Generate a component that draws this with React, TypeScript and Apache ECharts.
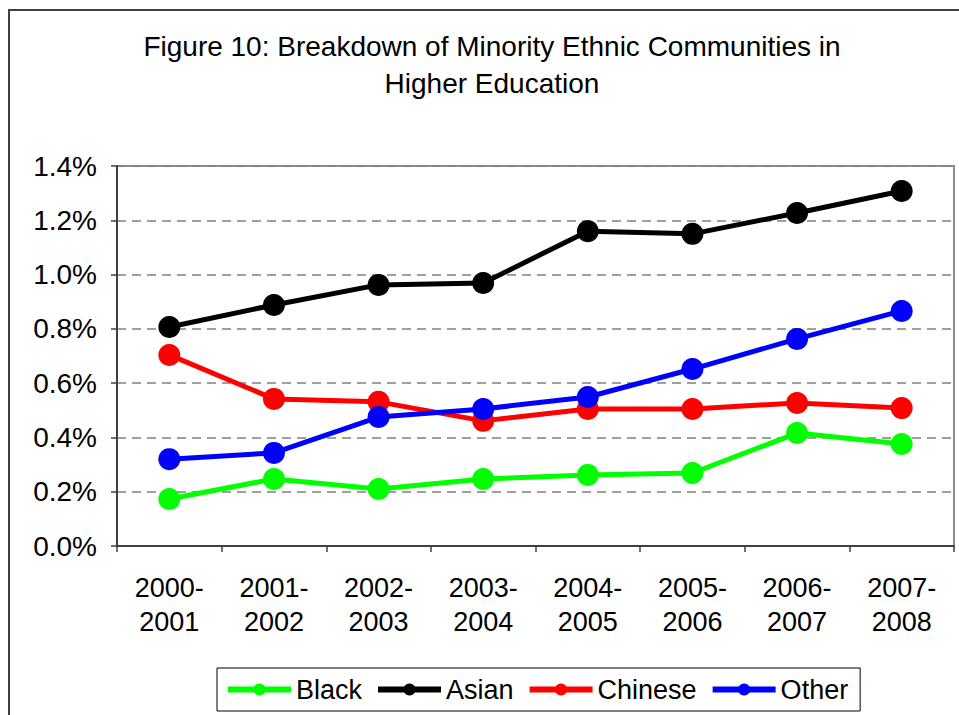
import React, { useEffect, useRef } from "react";
import * as echarts from "echarts";

const categories = ["2000-\n2001", "2001-\n2002", "2002-\n2003", "2003-\n2004", "2004-\n2005", "2005-\n2006", "2006-\n2007", "2007-\n2008"];
const black = [0.173, 0.247, 0.21, 0.247, 0.262, 0.269, 0.416, 0.376];
const asian = [0.807, 0.888, 0.962, 0.969, 1.16, 1.15, 1.227, 1.308];
const chinese = [0.704, 0.542, 0.531, 0.461, 0.505, 0.505, 0.527, 0.508];
const other = [0.32, 0.343, 0.475, 0.505, 0.549, 0.652, 0.763, 0.866];

const FONT = "Liberation Sans, Arial, sans-serif";

export default function App() {
  const ref = useRef<HTMLDivElement>(null);
  useEffect(() => {
    const chart = echarts.init(ref.current!, null, { renderer: "svg" });
    const mk = (name: string, color: string, data: number[]) => ({
      name,
      type: "line",
      data,
      symbol: "circle",
      symbolSize: 22,
      itemStyle: { color },
      lineStyle: { color, width: 5 },
    });
    chart.setOption({
      animation: false,
      backgroundColor: "#fff",
      title: {
        text: "Figure 10: Breakdown of Minority Ethnic Communities in\nHigher Education",
        left: 492,
        textAlign: "center",
        top: 28,
        padding: 0,
        textStyle: { fontFamily: FONT, fontSize: 28, fontWeight: "normal", color: "#000", lineHeight: 37 },
      },
      graphic: [
        {
          type: "rect",
          shape: { x: 9, y: 10, width: 980, height: 740 },
          style: { fill: "none", stroke: "#404040", lineWidth: 2 },
          silent: true,
          z: 100,
        },
      ],
      grid: {
        left: 117,
        top: 166,
        right: 5,
        bottom: 169,
        show: true,
        borderColor: "#8c8c8c",
        borderWidth: 2,
        backgroundColor: "transparent",
      },
      legend: {
        left: 217,
        top: 668,
        padding: [8, 12, 8, 8],
        borderColor: "#000",
        borderWidth: 1,
        itemWidth: 63,
        itemHeight: 15,
        itemGap: 13,
        lineStyle: { width: 6 },
        textStyle: { fontFamily: FONT, fontSize: 27, color: "#000" },
        data: ["Black", "Asian", "Chinese", "Other"],
      },
      xAxis: {
        type: "category",
        data: categories,
        boundaryGap: true,
        axisLine: { lineStyle: { color: "#404040", width: 2 } },
        axisTick: { show: true, length: 6, lineStyle: { color: "#404040", width: 1.5 } },
        axisLabel: { fontFamily: FONT, fontSize: 27, color: "#000", lineHeight: 34, margin: 25 },
      },
      yAxis: {
        type: "value",
        min: 0,
        max: 1.4,
        interval: 0.2,
        axisLine: { show: true, lineStyle: { color: "#404040", width: 2 } },
        axisTick: { show: true, length: 6, lineStyle: { color: "#404040", width: 1.5 } },
        axisLabel: {
          fontFamily: FONT,
          fontSize: 28,
          color: "#000",
          margin: 20,
          formatter: (v: number) => v.toFixed(1) + "%",
        },
        splitLine: { show: true, lineStyle: { color: "#808080", width: 1.5, type: [9, 6] } },
      },
      series: [
        mk("Black", "#00ff00", black),
        mk("Asian", "#000000", asian),
        mk("Chinese", "#ff0000", chinese),
        mk("Other", "#0000ff", other),
      ],
    });
    return () => chart.dispose();
  }, []);
  return <div ref={ref} style={{ position: "fixed", left: 0, top: 0, width: 959, height: 715 }} />;
}
